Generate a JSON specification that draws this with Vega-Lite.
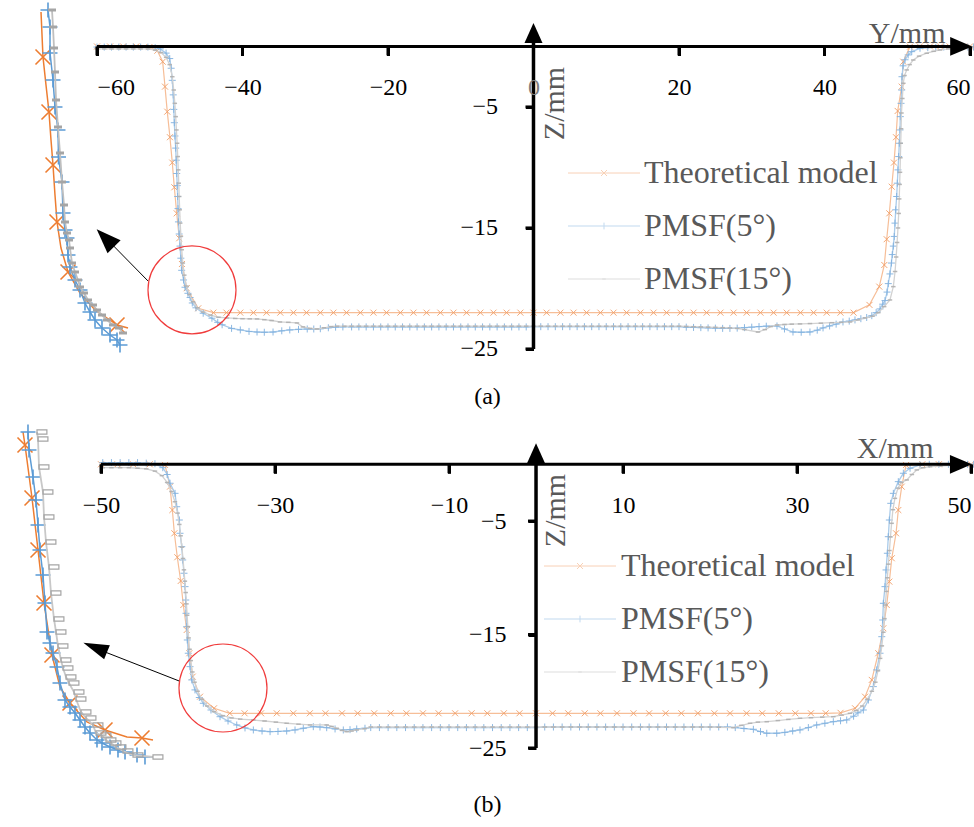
{
"$schema":"https://vega.github.io/schema/vega-lite/v6.json",
"width":974,"height":827,"padding":0,"autosize":{"type":"none"},"background":"white",
"config":{"view":{"stroke":null},"font":"Liberation Serif"},
"datasets":{
"aT":[{"y":-60,"z":0},{"y":-58.2,"z":0},{"y":-56.4,"z":0},{"y":-54.6,"z":0},{"y":-52.8,"z":-0.05},{"y":-51.7,"z":-0.35},{"y":-50.97,"z":-1.26},{"y":-50.65,"z":-3.32},{"y":-50.34,"z":-5.39},{"y":-49.97,"z":-7.5},{"y":-49.65,"z":-9.6},{"y":-49.37,"z":-11.64},{"y":-49.04,"z":-13.79},{"y":-48.69,"z":-15.85},{"y":-48.32,"z":-17.98},{"y":-47.67,"z":-19.98},{"y":-46.08,"z":-21.64},
{"y":-44,"z":-22},{"y":-42.2,"z":-22},{"y":-40.3,"z":-22},{"y":-38.5,"z":-22},{"y":-36.7,"z":-22},{"y":-34.8,"z":-22},{"y":-33,"z":-22},{"y":-31.2,"z":-22},{"y":-29.3,"z":-22},{"y":-27.5,"z":-22},{"y":-25.7,"z":-22},{"y":-23.8,"z":-22},{"y":-22,"z":-22},{"y":-20.2,"z":-22},{"y":-18.3,"z":-22},{"y":-16.5,"z":-22},{"y":-14.7,"z":-22},{"y":-12.8,"z":-22},{"y":-11,"z":-22},{"y":-9.2,"z":-22},{"y":-7.3,"z":-22},{"y":-5.5,"z":-22},{"y":-3.7,"z":-22},{"y":-1.8,"z":-22},{"y":0,"z":-22},{"y":1.8,"z":-22},{"y":3.7,"z":-22},{"y":5.5,"z":-22},{"y":7.3,"z":-22},{"y":9.2,"z":-22},{"y":11,"z":-22},{"y":12.8,"z":-22},{"y":14.7,"z":-22},{"y":16.5,"z":-22},{"y":18.3,"z":-22},{"y":20.2,"z":-22},{"y":22,"z":-22},{"y":23.8,"z":-22},{"y":25.7,"z":-22},{"y":27.5,"z":-22},{"y":29.3,"z":-22},{"y":31.2,"z":-22},{"y":33,"z":-22},{"y":34.8,"z":-22},{"y":36.7,"z":-22},{"y":38.5,"z":-22},{"y":40.3,"z":-22},{"y":42.2,"z":-22},{"y":44,"z":-22},
{"y":46.18,"z":-21.36},{"y":47.53,"z":-19.85},{"y":48.22,"z":-18.06},{"y":48.55,"z":-15.93},{"y":48.91,"z":-13.79},{"y":49.24,"z":-11.59},{"y":49.55,"z":-9.6},{"y":49.83,"z":-7.5},{"y":50.06,"z":-5.33},{"y":50.61,"z":-3.32},{"y":50.83,"z":-1.26},{"y":51.75,"z":-0.02},{"y":53.1,"z":0},{"y":54.5,"z":0},{"y":55.9,"z":0},{"y":57.2,"z":0},{"y":58.6,"z":0},{"y":60,"z":0}],
"aP5":[{"y":-60,"z":-0.05},{"y":-59,"z":-0.05},{"y":-58,"z":-0.05},{"y":-57,"z":-0.05},{"y":-56,"z":-0.05},{"y":-55,"z":-0.05},{"y":-54,"z":-0.05},{"y":-53,"z":-0.05},{"y":-52,"z":-0.1},{"y":-51.3,"z":-0.2},{"y":-50.5,"z":-0.55},{"y":-50,"z":-1},{"y":-49.8,"z":-1.8},{"y":-49.65,"z":-2.8},{"y":-49.52,"z":-4},{"y":-49.44,"z":-5.2},{"y":-49.37,"z":-6.3},{"y":-49.28,"z":-7.4},{"y":-49.18,"z":-8.4},{"y":-49.11,"z":-9.4},{"y":-49.04,"z":-10.5},{"y":-48.97,"z":-11.5},{"y":-48.91,"z":-12.4},{"y":-48.86,"z":-13.4},{"y":-48.8,"z":-14.5},{"y":-48.7,"z":-15.5},{"y":-48.59,"z":-16.5},{"y":-48.47,"z":-17.5},{"y":-48.36,"z":-18.5},{"y":-48.1,"z":-19.3},{"y":-47.9,"z":-19.9},{"y":-47.5,"z":-20.4},{"y":-47.2,"z":-20.75},{"y":-46.9,"z":-21.2},{"y":-46.4,"z":-21.6},{"y":-45.4,"z":-22.05},{"y":-44.2,"z":-22.46},{"y":-43.4,"z":-22.8},{"y":-42.8,"z":-23},{"y":-41.5,"z":-23.3},{"y":-40.3,"z":-23.43},{"y":-39.1,"z":-23.55},{"y":-38,"z":-23.6},{"y":-37,"z":-23.62},{"y":-35.8,"z":-23.6},{"y":-34.6,"z":-23.5},{"y":-33.5,"z":-23.43},{"y":-32.3,"z":-23.38},{"y":-31.1,"z":-23.35},{"y":-30.2,"z":-23.35},{"y":-29.3,"z":-23.33},{"y":-28.2,"z":-23.25},{"y":-27.2,"z":-23.2},{"y":-26.2,"z":-23.18},
{"y":-25,"z":-23.18},{"y":-24,"z":-23.18},{"y":-23,"z":-23.18},{"y":-22,"z":-23.18},{"y":-21,"z":-23.18},{"y":-20,"z":-23.18},{"y":-19,"z":-23.18},{"y":-18,"z":-23.18},{"y":-17,"z":-23.18},{"y":-16,"z":-23.18},{"y":-15,"z":-23.18},{"y":-14,"z":-23.18},{"y":-13,"z":-23.18},{"y":-12,"z":-23.18},{"y":-11,"z":-23.18},{"y":-10,"z":-23.18},{"y":-9,"z":-23.18},{"y":-8,"z":-23.18},{"y":-7,"z":-23.18},{"y":-6,"z":-23.18},{"y":-5,"z":-23.18},{"y":-4,"z":-23.18},{"y":-3,"z":-23.18},{"y":-2,"z":-23.18},{"y":-1,"z":-23.18},
{"y":0,"z":-23.16},{"y":1,"z":-23.16},{"y":2,"z":-23.16},{"y":3,"z":-23.16},{"y":4,"z":-23.16},{"y":5,"z":-23.16},{"y":6,"z":-23.16},{"y":7,"z":-23.16},{"y":8,"z":-23.16},{"y":9,"z":-23.16},{"y":10,"z":-23.16},{"y":11,"z":-23.16},{"y":12,"z":-23.16},{"y":13,"z":-23.16},{"y":14,"z":-23.16},{"y":15,"z":-23.16},{"y":16,"z":-23.16},{"y":17,"z":-23.16},{"y":18,"z":-23.16},{"y":19,"z":-23.16},{"y":20,"z":-23.16},
{"y":21,"z":-23.2},{"y":22,"z":-23.22},{"y":23,"z":-23.24},{"y":24,"z":-23.26},{"y":25,"z":-23.28},{"y":26,"z":-23.3},{"y":27,"z":-23.3},{"y":28,"z":-23.28},{"y":29,"z":-23.24},
{"y":30,"z":-23.2},{"y":31,"z":-23.15},{"y":32,"z":-23.12},{"y":33.47,"z":-23.1},{"y":34.5,"z":-23.35},{"y":35.67,"z":-23.6},{"y":36.8,"z":-23.62},{"y":38,"z":-23.6},{"y":39,"z":-23.45},{"y":39.8,"z":-23.26},{"y":40.7,"z":-23.1},{"y":41.6,"z":-22.95},{"y":42.54,"z":-22.77},{"y":43.4,"z":-22.7},{"y":44.19,"z":-22.6},{"y":45,"z":-22.5},{"y":45.8,"z":-22.4},{"y":46.5,"z":-22.25},{"y":47.1,"z":-22},{"y":47.63,"z":-21.69},{"y":48,"z":-21.3},{"y":48.32,"z":-21},{"y":48.6,"z":-20.3},{"y":48.77,"z":-19.6},{"y":49,"z":-18.8},{"y":49.2,"z":-17.9},{"y":49.32,"z":-17.2},{"y":49.46,"z":-16.5},{"y":49.59,"z":-15.7},{"y":49.69,"z":-14.6},{"y":49.79,"z":-13.5},{"y":49.92,"z":-12.4},{"y":50.01,"z":-11.3},{"y":50.1,"z":-10.2},{"y":50.2,"z":-9.1},{"y":50.28,"z":-8},{"y":50.38,"z":-6.9},{"y":50.42,"z":-5.8},{"y":50.52,"z":-4.7},{"y":50.61,"z":-3.6},{"y":50.65,"z":-2.5},{"y":50.8,"z":-1.6},{"y":51.07,"z":-1.1},{"y":51.5,"z":-0.7},{"y":51.99,"z":-0.43},{"y":53.13,"z":-0.15},{"y":54.2,"z":-0.1},{"y":55.3,"z":-0.08},{"y":56.4,"z":-0.05},{"y":57.5,"z":-0.05},{"y":58.6,"z":-0.05},{"y":59.7,"z":-0.05},{"y":60.5,"z":-0.05}],
"aP15":[{"y":-60,"z":-0.2},{"y":-59,"z":-0.2},{"y":-58,"z":-0.2},{"y":-57,"z":-0.2},{"y":-56,"z":-0.2},{"y":-55,"z":-0.2},{"y":-54,"z":-0.2},{"y":-53,"z":-0.2},{"y":-52,"z":-0.3},{"y":-51.2,"z":-0.5},{"y":-50.5,"z":-0.9},{"y":-50,"z":-1.5},{"y":-49.65,"z":-2.5},{"y":-49.45,"z":-3.6},{"y":-49.3,"z":-4.7},{"y":-49.18,"z":-5.8},{"y":-49.08,"z":-6.9},{"y":-48.98,"z":-8},{"y":-48.9,"z":-9.1},{"y":-48.83,"z":-10.2},{"y":-48.76,"z":-11.3},{"y":-48.7,"z":-12.4},{"y":-48.63,"z":-13.5},{"y":-48.56,"z":-14.6},{"y":-48.46,"z":-15.7},{"y":-48.35,"z":-16.8},{"y":-48.2,"z":-17.9},{"y":-48,"z":-18.9},{"y":-47.7,"z":-19.8},{"y":-47.3,"z":-20.5},{"y":-46.8,"z":-21.1},{"y":-46.2,"z":-21.6},{"y":-45.4,"z":-21.95},{"y":-44.4,"z":-22.2},{"y":-43.3,"z":-22.38},{"y":-42.13,"z":-22.44},{"y":-41,"z":-22.48},{"y":-40,"z":-22.5},{"y":-39,"z":-22.51},{"y":-38,"z":-22.52},{"y":-37,"z":-22.58},{"y":-36,"z":-22.65},{"y":-34.85,"z":-22.77},{"y":-33.7,"z":-22.8},{"y":-32.51,"z":-22.85},{"y":-31.69,"z":-23.18},{"y":-30.7,"z":-23.3},{"y":-29.76,"z":-23.35},{"y":-28.8,"z":-23.25},{"y":-27.8,"z":-23.15},
{"y":-27,"z":-23.12},{"y":-26,"z":-23.12},{"y":-25,"z":-23.12},{"y":-24,"z":-23.12},{"y":-23,"z":-23.12},{"y":-22,"z":-23.12},{"y":-21,"z":-23.12},{"y":-20,"z":-23.12},{"y":-19,"z":-23.12},{"y":-18,"z":-23.12},{"y":-17,"z":-23.12},{"y":-16,"z":-23.12},{"y":-15,"z":-23.12},{"y":-14,"z":-23.12},{"y":-13,"z":-23.12},{"y":-12,"z":-23.12},{"y":-11,"z":-23.12},{"y":-10,"z":-23.12},{"y":-9,"z":-23.12},{"y":-8,"z":-23.12},{"y":-7,"z":-23.12},{"y":-6,"z":-23.12},{"y":-5,"z":-23.12},{"y":-4,"z":-23.12},{"y":-3,"z":-23.12},{"y":-2,"z":-23.12},{"y":-1,"z":-23.12},{"y":0,"z":-23.12},{"y":1,"z":-23.12},{"y":2,"z":-23.12},{"y":3,"z":-23.12},{"y":4,"z":-23.12},{"y":5,"z":-23.12},{"y":6,"z":-23.12},{"y":7,"z":-23.12},{"y":8,"z":-23.12},{"y":9,"z":-23.12},{"y":10,"z":-23.12},{"y":11,"z":-23.12},{"y":12,"z":-23.12},{"y":13,"z":-23.12},{"y":14,"z":-23.12},{"y":15,"z":-23.12},{"y":16,"z":-23.12},{"y":17,"z":-23.12},{"y":18,"z":-23.12},{"y":19,"z":-23.12},{"y":20,"z":-23.12},{"y":21,"z":-23.14},{"y":22,"z":-23.16},{"y":23,"z":-23.18},{"y":24,"z":-23.2},{"y":25,"z":-23.22},{"y":26,"z":-23.24},{"y":27,"z":-23.26},{"y":28,"z":-23.3},{"y":29,"z":-23.4},
{"y":30.86,"z":-23.6},{"y":31.8,"z":-23.4},{"y":32.6,"z":-23.15},{"y":33.47,"z":-23.02},{"y":34.5,"z":-22.98},{"y":35.5,"z":-22.95},{"y":36.63,"z":-22.93},{"y":38,"z":-22.9},{"y":39.5,"z":-22.87},{"y":41,"z":-22.83},{"y":42.3,"z":-22.8},{"y":43.51,"z":-22.77},{"y":44.6,"z":-22.6},{"y":45.57,"z":-22.44},{"y":46.6,"z":-22.3},{"y":47.4,"z":-22},{"y":48.2,"z":-21.5},{"y":49,"z":-20.95},{"y":49.46,"z":-19.85},{"y":49.7,"z":-18.6},{"y":49.85,"z":-17.4},{"y":49.98,"z":-16.2},{"y":50.1,"z":-15},{"y":50.2,"z":-13.8},{"y":50.27,"z":-12.6},{"y":50.33,"z":-11.4},{"y":50.38,"z":-10.4},{"y":50.43,"z":-9.2},{"y":50.48,"z":-8},{"y":50.53,"z":-6.8},{"y":50.58,"z":-5.5},{"y":50.7,"z":-4.3},{"y":50.83,"z":-3.04},{"y":51,"z":-2.4},{"y":51.3,"z":-1.94},{"y":51.7,"z":-1.5},{"y":52.2,"z":-1.12},{"y":53,"z":-0.8},{"y":54.05,"z":-0.56},{"y":55,"z":-0.4},{"y":55.88,"z":-0.29},{"y":57,"z":-0.2},{"y":58,"z":-0.1},{"y":59.55,"z":-0.05},{"y":60.5,"z":-0.02}],
"bT":[{"y":-50,"z":0},{"y":-48.1,"z":0},{"y":-46.3,"z":0},{"y":-44.4,"z":0},{"y":-42.64,"z":-0.06},{"y":-42.07,"z":-1.97},{"y":-41.8,"z":-4.03},{"y":-41.57,"z":-6.08},{"y":-41.23,"z":-8.19},{"y":-40.84,"z":-10.28},{"y":-40.54,"z":-12.4},{"y":-40.15,"z":-14.6},{"y":-39.85,"z":-16.65},{"y":-39.46,"z":-18.71},{"y":-38.62,"z":-20.48},{"y":-37.01,"z":-21.5},{"y":-35.2,"z":-21.94},
{"y":-33.5,"z":-21.94},{"y":-31.6,"z":-21.94},{"y":-29.8,"z":-21.94},{"y":-27.9,"z":-21.94},{"y":-26,"z":-21.94},{"y":-24.2,"z":-21.94},{"y":-22.3,"z":-21.94},{"y":-20.5,"z":-21.94},{"y":-18.6,"z":-21.94},{"y":-16.7,"z":-21.94},{"y":-14.9,"z":-21.94},{"y":-13,"z":-21.94},{"y":-11.2,"z":-21.94},{"y":-9.3,"z":-21.94},{"y":-7.4,"z":-21.94},{"y":-5.6,"z":-21.94},{"y":-3.7,"z":-21.94},{"y":-1.9,"z":-21.94},{"y":0,"z":-21.94},{"y":1.9,"z":-21.94},{"y":3.7,"z":-21.94},{"y":5.6,"z":-21.94},{"y":7.4,"z":-21.94},{"y":9.3,"z":-21.94},{"y":11.2,"z":-21.94},{"y":13,"z":-21.94},{"y":14.9,"z":-21.94},{"y":16.7,"z":-21.94},{"y":18.6,"z":-21.94},{"y":20.5,"z":-21.94},{"y":22.3,"z":-21.94},{"y":24.2,"z":-21.94},{"y":26,"z":-21.94},{"y":27.9,"z":-21.94},{"y":29.8,"z":-21.94},{"y":31.6,"z":-21.94},{"y":33.3,"z":-21.94},
{"y":35,"z":-21.9},{"y":36.67,"z":-21.5},{"y":37.82,"z":-20.48},{"y":38.59,"z":-19},{"y":39.34,"z":-16.65},{"y":39.92,"z":-14.45},{"y":40.31,"z":-12.4},{"y":40.61,"z":-10.34},{"y":40.89,"z":-8.28},{"y":41.38,"z":-6.08},{"y":41.64,"z":-4.03},{"y":42.03,"z":-1.97},{"y":42.53,"z":-0.06},{"y":44.4,"z":0},{"y":46.3,"z":0},{"y":48.1,"z":0},{"y":50,"z":0}],
"bP5":[{"y":-49.8,"z":0.15},{"y":-48.8,"z":0.15},{"y":-47.8,"z":0.15},{"y":-46.8,"z":0.15},{"y":-45.8,"z":0.15},{"y":-44.8,"z":0.1},{"y":-43.8,"z":0.05},{"y":-42.9,"z":-0.3},{"y":-42.4,"z":-0.9},{"y":-42.07,"z":-1.67},{"y":-41.49,"z":-2.56},{"y":-41.3,"z":-3.74},{"y":-41,"z":-4.91},{"y":-40.92,"z":-6.08},{"y":-40.72,"z":-7.26},{"y":-40.61,"z":-8.43},{"y":-40.46,"z":-9.6},{"y":-40.34,"z":-10.78},{"y":-40.26,"z":-11.96},{"y":-40.23,"z":-13.13},{"y":-40.15,"z":-14.31},{"y":-40.08,"z":-15.48},{"y":-39.97,"z":-16.65},{"y":-39.77,"z":-17.83},{"y":-39.57,"z":-19},{"y":-39.2,"z":-19.88},{"y":-38.7,"z":-20.55},{"y":-38.24,"z":-21.06},{"y":-37.36,"z":-21.65},{"y":-36.32,"z":-22.24},{"y":-35.4,"z":-22.62},{"y":-34.4,"z":-22.97},{"y":-33.45,"z":-23.23},{"y":-32.49,"z":-23.41},{"y":-31.49,"z":-23.5},{"y":-30.57,"z":-23.56},{"y":-29.66,"z":-23.54},{"y":-28.66,"z":-23.5},{"y":-27.7,"z":-23.41},{"y":-26.75,"z":-23.26},{"y":-25.6,"z":-23.12},{"y":-24.83,"z":-23.15},{"y":-24.06,"z":-23.21},{"y":-23.1,"z":-23.32},{"y":-22.15,"z":-23.41},{"y":-21.38,"z":-23.38},{"y":-20.61,"z":-23.32},{"y":-19.66,"z":-23.26},
{"y":-19,"z":-23.2},{"y":-18,"z":-23.2},{"y":-17,"z":-23.2},{"y":-16,"z":-23.2},{"y":-15,"z":-23.2},{"y":-14,"z":-23.2},{"y":-13,"z":-23.2},{"y":-12,"z":-23.2},{"y":-11,"z":-23.2},{"y":-10,"z":-23.2},{"y":-9,"z":-23.2},{"y":-8,"z":-23.2},{"y":-7,"z":-23.2},{"y":-6,"z":-23.2},{"y":-5,"z":-23.2},{"y":-4,"z":-23.2},{"y":-3,"z":-23.2},{"y":-2,"z":-23.2},{"y":-1,"z":-23.2},{"y":0,"z":-23.2},{"y":1,"z":-23.15},{"y":2,"z":-23.15},{"y":3,"z":-23.15},{"y":4,"z":-23.15},{"y":5,"z":-23.15},{"y":6,"z":-23.15},{"y":7,"z":-23.15},{"y":8,"z":-23.15},{"y":9,"z":-23.15},{"y":10,"z":-23.15},{"y":11,"z":-23.15},{"y":12,"z":-23.15},{"y":13,"z":-23.15},{"y":14,"z":-23.15},{"y":15,"z":-23.15},{"y":16,"z":-23.15},{"y":17,"z":-23.15},{"y":18,"z":-23.15},{"y":19,"z":-23.15},{"y":20,"z":-23.15},{"y":21,"z":-23.15},{"y":22,"z":-23.15},
{"y":22.9,"z":-23.2},{"y":23.9,"z":-23.28},{"y":24.98,"z":-23.35},{"y":25.8,"z":-23.55},{"y":26.52,"z":-23.7},{"y":27.67,"z":-23.7},{"y":28.6,"z":-23.62},{"y":29.5,"z":-23.5},{"y":30.34,"z":-23.41},{"y":31.3,"z":-23.2},{"y":32.26,"z":-22.97},{"y":33.2,"z":-22.82},{"y":34.17,"z":-22.68},{"y":35,"z":-22.6},{"y":35.71,"z":-22.53},{"y":36.5,"z":-22.2},{"y":37,"z":-21.9},{"y":37.62,"z":-21.65},{"y":38.2,"z":-20.77},{"y":38.77,"z":-19.59},{"y":39.16,"z":-18.12},{"y":39.54,"z":-16.65},{"y":39.74,"z":-15.19},{"y":39.85,"z":-13.72},{"y":39.92,"z":-12.25},{"y":40.11,"z":-10.78},{"y":40.23,"z":-9.31},{"y":40.38,"z":-7.84},{"y":40.49,"z":-6.38},{"y":40.61,"z":-4.91},{"y":40.77,"z":-3.44},{"y":41.07,"z":-2.56},{"y":41.64,"z":-1.53},{"y":42.22,"z":-0.79},{"y":42.99,"z":-0.35},{"y":44.14,"z":-0.06},{"y":45.2,"z":0},{"y":46.3,"z":0},{"y":47.4,"z":0},{"y":48.5,"z":0},{"y":49.6,"z":0},{"y":50.3,"z":0}],
"bP15":[{"y":-49.8,"z":-0.3},{"y":-48.8,"z":-0.3},{"y":-47.8,"z":-0.3},{"y":-46.8,"z":-0.3},{"y":-45.8,"z":-0.35},{"y":-44.8,"z":-0.4},{"y":-43.8,"z":-0.6},{"y":-43,"z":-1},{"y":-42.4,"z":-1.6},{"y":-41.9,"z":-2.4},{"y":-41.5,"z":-3.3},{"y":-41.2,"z":-4.3},{"y":-41,"z":-5.3},{"y":-40.85,"z":-6.3},{"y":-40.7,"z":-7.3},{"y":-40.58,"z":-8.3},{"y":-40.47,"z":-9.3},{"y":-40.36,"z":-10.3},{"y":-40.27,"z":-11.3},{"y":-40.18,"z":-12.3},{"y":-40.1,"z":-13.3},{"y":-40.02,"z":-14.3},{"y":-39.93,"z":-15.3},{"y":-39.82,"z":-16.3},{"y":-39.68,"z":-17.3},{"y":-39.5,"z":-18.3},{"y":-39.25,"z":-19.2},{"y":-38.9,"z":-20},{"y":-38.4,"z":-20.7},{"y":-37.8,"z":-21.3},{"y":-37,"z":-21.8},{"y":-36,"z":-22.15},{"y":-35,"z":-22.35},{"y":-34,"z":-22.45},{"y":-32.49,"z":-22.53},{"y":-31.2,"z":-22.62},{"y":-29.9,"z":-22.72},{"y":-28.66,"z":-22.82},{"y":-27.3,"z":-22.9},{"y":-25.98,"z":-22.97},{"y":-24.06,"z":-22.97},{"y":-23.5,"z":-23.1},{"y":-22.91,"z":-23.26},{"y":-22.3,"z":-23.45},{"y":-21.76,"z":-23.56},{"y":-21.2,"z":-23.5},{"y":-20.61,"z":-23.41},{"y":-19.7,"z":-23.3},
{"y":-19,"z":-23.15},{"y":-18,"z":-23.15},{"y":-17,"z":-23.15},{"y":-16,"z":-23.15},{"y":-15,"z":-23.15},{"y":-14,"z":-23.15},{"y":-13,"z":-23.15},{"y":-12,"z":-23.15},{"y":-11,"z":-23.15},{"y":-10,"z":-23.15},{"y":-9,"z":-23.15},{"y":-8,"z":-23.15},{"y":-7,"z":-23.15},{"y":-6,"z":-23.15},{"y":-5,"z":-23.15},{"y":-4,"z":-23.15},{"y":-3,"z":-23.15},{"y":-2,"z":-23.15},{"y":-1,"z":-23.15},{"y":0,"z":-23.15},{"y":1,"z":-23.15},{"y":2,"z":-23.15},{"y":3,"z":-23.15},{"y":4,"z":-23.15},{"y":5,"z":-23.15},{"y":6,"z":-23.15},{"y":7,"z":-23.15},{"y":8,"z":-23.15},{"y":9,"z":-23.15},{"y":10,"z":-23.15},{"y":11,"z":-23.15},{"y":12,"z":-23.15},{"y":13,"z":-23.15},{"y":14,"z":-23.15},{"y":15,"z":-23.15},{"y":16,"z":-23.15},{"y":17,"z":-23.15},{"y":18,"z":-23.15},{"y":19,"z":-23.15},{"y":20,"z":-23.15},{"y":21,"z":-23.17},
{"y":22.68,"z":-23.2},{"y":23.6,"z":-23},{"y":24.6,"z":-22.82},{"y":25.5,"z":-22.72},{"y":26.52,"z":-22.68},{"y":27.8,"z":-22.58},{"y":29,"z":-22.48},{"y":30.34,"z":-22.38},{"y":31.6,"z":-22.33},{"y":32.9,"z":-22.28},{"y":34.17,"z":-22.24},{"y":35.1,"z":-22.1},{"y":36.09,"z":-21.94},{"y":36.8,"z":-21.7},{"y":37.5,"z":-21.3},{"y":38.1,"z":-20.7},{"y":38.6,"z":-20},{"y":39,"z":-19.2},{"y":39.3,"z":-18.2},{"y":39.55,"z":-17.1},{"y":39.75,"z":-16},{"y":39.92,"z":-14.8},{"y":40.05,"z":-13.6},{"y":40.15,"z":-12.4},{"y":40.27,"z":-11.2},{"y":40.38,"z":-10},{"y":40.5,"z":-8.8},{"y":40.62,"z":-7.6},{"y":40.74,"z":-6.4},{"y":40.87,"z":-5.2},{"y":41.02,"z":-4},{"y":41.25,"z":-3},{"y":41.6,"z":-2.1},{"y":42,"z":-1.6},{"y":42.61,"z":-1.38},{"y":43.2,"z":-0.9},{"y":43.76,"z":-0.5},{"y":44.5,"z":-0.3},{"y":45.29,"z":-0.21},{"y":46.5,"z":-0.15},{"y":47.7,"z":-0.1},{"y":48.9,"z":-0.1},{"y":50.1,"z":-0.05}],
"iaT":[{"y":-48.633,"z":-16.04},{"y":-48.567,"z":-16.94},{"y":-48.467,"z":-17.5},{"y":-48.367,"z":-18.04},{"y":-48.3,"z":-18.6},{"y":-48.233,"z":-19.1},{"y":-48.167,"z":-19.7},{"y":-48.1,"z":-20.24},{"y":-47.967,"z":-20.76},{"y":-47.733,"z":-21.24},{"y":-47.333,"z":-21.66},{"y":-46.833,"z":-22},{"y":-46.333,"z":-22.2},{"y":-46.1,"z":-22.3},{"y":-45.733,"z":-22.36}],
"iaTm":[{"y":-48.567,"z":-16.94},{"y":-48.367,"z":-18.04},{"y":-48.233,"z":-19.1},{"y":-48.1,"z":-20.24},{"y":-47.733,"z":-21.24},{"y":-46.1,"z":-22.3}],
"iaP5":[{"y":-48.4,"z":-16},{"y":-48.333,"z":-16.34},{"y":-48.333,"z":-16.86},{"y":-48.233,"z":-17.4},{"y":-48.167,"z":-17.94},{"y":-48.067,"z":-18.4},{"y":-48.05,"z":-18.94},{"y":-47.933,"z":-19.44},{"y":-47.9,"z":-20.06},{"y":-47.833,"z":-20.4},{"y":-47.767,"z":-20.56},{"y":-47.733,"z":-20.9},{"y":-47.667,"z":-21.14},{"y":-47.5,"z":-21.4},{"y":-47.333,"z":-21.6},{"y":-47.167,"z":-21.86},{"y":-47,"z":-22.04},{"y":-46.833,"z":-22.2},{"y":-46.6,"z":-22.36},{"y":-46.333,"z":-22.5},{"y":-46.1,"z":-22.6},{"y":-46,"z":-22.7}],
"iaP15":[{"y":-48.267,"z":-16},{"y":-48.233,"z":-16.34},{"y":-48.2,"z":-16.76},{"y":-48.167,"z":-17.24},{"y":-48.133,"z":-17.8},{"y":-48.067,"z":-18.34},{"y":-48,"z":-18.86},{"y":-47.933,"z":-19.44},{"y":-47.867,"z":-19.9},{"y":-47.833,"z":-20.24},{"y":-47.767,"z":-20.46},{"y":-47.7,"z":-20.6},{"y":-47.667,"z":-20.76},{"y":-47.6,"z":-21.06},{"y":-47.5,"z":-21.24},{"y":-47.4,"z":-21.4},{"y":-47.333,"z":-21.54},{"y":-47.2,"z":-21.66},{"y":-47.067,"z":-21.8},{"y":-46.9,"z":-21.9},{"y":-46.767,"z":-22},{"y":-46.6,"z":-22.1},{"y":-46.433,"z":-22.2},{"y":-46.233,"z":-22.3},{"y":-46.033,"z":-22.36},{"y":-45.9,"z":-22.46}],
"ibT":[{"y":-42.233,"z":-16.18},{"y":-42.167,"z":-16.44},{"y":-41.933,"z":-17.5},{"y":-41.733,"z":-18.54},{"y":-41.533,"z":-19.6},{"y":-41.267,"z":-20.64},{"y":-41,"z":-21.28},{"y":-40.667,"z":-21.6},{"y":-40.1,"z":-21.98},{"y":-39.5,"z":-22.14},{"y":-38.767,"z":-22.28},{"y":-38.267,"z":-22.3},{"y":-37.9,"z":-22.34}],
"ibTm":[{"y":-42.167,"z":-16.44},{"y":-41.933,"z":-17.5},{"y":-41.733,"z":-18.54},{"y":-41.533,"z":-19.6},{"y":-41.267,"z":-20.64},{"y":-40.667,"z":-21.6},{"y":-39.5,"z":-22.14},{"y":-38.267,"z":-22.3}],
"ibP5":[{"y":-42.067,"z":-16.18},{"y":-42.033,"z":-16.54},{"y":-41.9,"z":-17.08},{"y":-41.8,"z":-17.54},{"y":-41.733,"z":-18.04},{"y":-41.667,"z":-18.54},{"y":-41.567,"z":-19.04},{"y":-41.5,"z":-19.6},{"y":-41.433,"z":-20.18},{"y":-41.333,"z":-20.4},{"y":-41.233,"z":-20.6},{"y":-41.1,"z":-20.88},{"y":-41,"z":-21.2},{"y":-40.833,"z":-21.54},{"y":-40.667,"z":-21.68},{"y":-40.5,"z":-21.8},{"y":-40.333,"z":-21.94},{"y":-40.167,"z":-22.08},{"y":-40,"z":-22.2},{"y":-39.767,"z":-22.34},{"y":-39.6,"z":-22.4},{"y":-39.333,"z":-22.48},{"y":-39.067,"z":-22.54},{"y":-38.833,"z":-22.58},{"y":-38.433,"z":-22.64},{"y":-38.167,"z":-22.68}],
"ibP15":[{"y":-41.767,"z":-16.18},{"y":-41.733,"z":-16.32},{"y":-41.7,"z":-16.88},{"y":-41.567,"z":-17.38},{"y":-41.533,"z":-17.88},{"y":-41.467,"z":-18.38},{"y":-41.367,"z":-18.88},{"y":-41.3,"z":-19.4},{"y":-41.2,"z":-19.92},{"y":-41.133,"z":-20.18},{"y":-41.067,"z":-20.46},{"y":-40.967,"z":-20.74},{"y":-40.9,"z":-20.9},{"y":-40.8,"z":-21.08},{"y":-40.7,"z":-21.2},{"y":-40.533,"z":-21.38},{"y":-40.467,"z":-21.52},{"y":-40.3,"z":-21.78},{"y":-40.133,"z":-21.9},{"y":-39.9,"z":-22.04},{"y":-39.8,"z":-22.2},{"y":-39.633,"z":-22.24},{"y":-39.467,"z":-22.34},{"y":-39.3,"z":-22.4},{"y":-39.133,"z":-22.48},{"y":-38.9,"z":-22.56},{"y":-38.567,"z":-22.64},{"y":-37.9,"z":-22.68}],
"axTicks":[{"t":-60},{"t":-40},{"t":-20},{"t":20},{"t":40},{"t":60}],
"bxTicks":[{"t":-50},{"t":-30},{"t":-10},{"t":10},{"t":30},{"t":50}],
"zTicks":[{"t":-5},{"t":-15},{"t":-25}]
},
"resolve":{"scale":{"x":"independent","y":"independent","stroke":"independent","shape":"independent"},"axis":{"x":"independent","y":"independent"},"legend":{"stroke":"independent","shape":"independent"}},
"layer":[
{
"resolve":{"axis":{"x":"independent","y":"independent"}},
"layer":[
{
"encoding":{
"x":{"field":"y","type":"quantitative","scale":{"domain":[-73.33,60.55],"nice":false,"zero":false},
"axis":{"orient":"bottom","offset":-780.5,"values":[-60,-40,-20,0,20,40,60],"domain":false,"grid":false,"ticks":true,"tickSize":9,"tickWidth":3,"tickColor":"#000","zindex":2,"labelFont":"Liberation Serif","labelFontSize":24,"labelColor":{"condition":{"test":"datum.value === 0","value":"#808080"},"value":"#000"},"labelPadding":20,"labelAlign":{"condition":[{"test":"datum.value === -60","value":"left"},{"test":"datum.value === 60","value":"right"}],"value":"center"},"labelFlush":false,"labelOverlap":false,"title":"Y/mm","titleFont":"Liberation Serif","titleFontSize":30,"titleFontWeight":"normal","titleColor":"#595959","titleX":945,"titleY":-4,"titleAlign":"right","titleBaseline":"alphabetic","titleAngle":0}},
"y":{"field":"z","type":"quantitative","scale":{"domain":[-64.51,3.84],"nice":false,"zero":false},
"axis":{"orient":"left","offset":-533.5,"values":[-5,-15,-25],"domain":false,"grid":false,"ticks":true,"tickSize":8,"tickWidth":3,"tickColor":"#000","zindex":2,"labelFont":"Liberation Serif","labelFontSize":24,"labelColor":"#000","labelPadding":28,"labelOverlap":false,"labelFlush":false,"title":"Z/mm","titleFont":"Liberation Serif","titleFontSize":30,"titleFontWeight":"normal","titleColor":"#595959","titleAngle":270,"titleX":30,"titleY":103,"titleAlign":"center","titleBaseline":"alphabetic"}}
},
"layer":[
{"data":{"name":"aT"},"mark":{"type":"line","color":"#F6BE98","strokeWidth":1.2},"encoding":{"order":{"value":null}}},
{"data":{"name":"aT"},"mark":{"type":"point","shape":"M-1,-1L1,1M-1,1L1,-1","filled":false,"color":"#F29F68","opacity":0.9,"size":36,"strokeWidth":1}},
{"data":{"name":"aP5"},"mark":{"type":"line","color":"#A9CBEA","strokeWidth":1.3},"encoding":{"order":{"value":null}}},
{"data":{"name":"aP5"},"mark":{"type":"point","shape":"M-1,0L1,0M0,-1L0,1","filled":false,"color":"#80B1DF","opacity":0.9,"size":49,"strokeWidth":1}},
{"data":{"name":"aP15"},"mark":{"type":"line","color":"#D2D2D2","strokeWidth":1.3},"encoding":{"order":{"value":null}}},
{"data":{"name":"aP15"},"mark":{"type":"point","shape":"M-1,0L1,0","filled":false,"color":"#B0B0B0","opacity":0.9,"size":20,"strokeWidth":1.5}}
]
},
{
"layer":[
{"data":{"values":[{"k":1}]},"mark":{"type":"rule","color":"#000","strokeWidth":3},"encoding":{"x":{"datum":-60,"type":"quantitative","axis":null},"x2":{"datum":59},"y":{"datum":0,"type":"quantitative","axis":null}}},
{"data":{"values":[{"k":1}]},"mark":{"type":"rule","color":"#000","strokeWidth":3.5},"encoding":{"x":{"datum":0,"type":"quantitative","axis":null},"y":{"datum":1,"type":"quantitative","axis":null},"y2":{"datum":-25}}},
{"data":{"name":"axTicks"},"mark":{"type":"rule","color":"#000","strokeWidth":3},"encoding":{"x":{"field":"t","type":"quantitative","axis":null},"y":{"datum":0,"type":"quantitative","axis":null},"y2":{"datum":-0.74}}},
{"data":{"name":"zTicks"},"mark":{"type":"rule","color":"#000","strokeWidth":3},"encoding":{"y":{"field":"t","type":"quantitative","axis":null},"x":{"datum":0,"type":"quantitative","axis":null},"x2":{"datum":-1.1}}},
{"data":{"values":[{"k":1}]},"mark":{"type":"point","shape":"M0,0L-2,-0.85L-2,0.85Z","filled":true,"color":"#000","opacity":1,"size":484},"encoding":{"x":{"datum":60.3,"type":"quantitative","axis":null},"y":{"datum":0,"type":"quantitative","axis":null}}},
{"data":{"values":[{"k":1}]},"mark":{"type":"point","shape":"M0,0L-0.9,2L0.9,2Z","filled":true,"color":"#000","opacity":1,"size":400},"encoding":{"x":{"datum":0,"type":"quantitative","axis":null},"y":{"datum":1.94,"type":"quantitative","axis":null}}},
{"data":{"values":[{"k":1}]},"mark":{"type":"point","shape":"circle","filled":false,"color":"#F03C3C","opacity":1,"size":7744,"strokeWidth":1.2},"encoding":{"x":{"datum":-46.94,"type":"quantitative","axis":null},"y":{"datum":-20.12,"type":"quantitative","axis":null}}},
{"data":{"values":[{"k":1}]},"mark":{"type":"rule","color":"#000","strokeWidth":1},"encoding":{"x":{"datum":-52.99,"type":"quantitative","axis":null},"y":{"datum":-19.38,"type":"quantitative","axis":null},"x2":{"datum":-59},"y2":{"datum":-15.7}}},
{"data":{"values":[{"k":1}]},"mark":{"type":"point","shape":"M0,0L2,-0.75L2,0.75Z","filled":true,"color":"#000","opacity":1,"size":605,"angle":45},"encoding":{"x":{"datum":-60.04,"type":"quantitative","axis":null},"y":{"datum":-15.11,"type":"quantitative","axis":null}}},
{"data":{"values":[]},"mark":{"type":"point","filled":false,"size":576,"strokeWidth":1},
"encoding":{
"stroke":{"field":"s","type":"nominal","scale":{"domain":["T","P5","P15"],"range":["#F6BE98","#A9CBEA","#CFCFCF"]},"legend":{"orient":"none","legendX":588,"legendY":157,"title":null,"direction":"vertical","padding":0,"labelFont":"Liberation Serif","labelFontSize":32,"labelColor":"#595959","labelOffset":24,"rowPadding":21,"symbolSize":576,"symbolStrokeWidth":1,"labelLimit":0,"labelExpr":"datum.label == 'T' ? 'Theoretical model' : datum.label == 'P5' ? 'PMSF(5°)' : 'PMSF(15°)'"}},
"shape":{"field":"s","type":"nominal","scale":{"domain":["T","P5","P15"],"range":["M-3,0L3,0M-0.25,-0.25L0.25,0.25M-0.25,0.25L0.25,-0.25","M-3,0L3,0M0,-0.28L0,0.28","M-3,0L3,0M-0.15,0L0.15,0"]},"legend":{"orient":"none","legendX":588,"legendY":157,"title":null,"direction":"vertical","padding":0,"labelFont":"Liberation Serif","labelFontSize":32,"labelColor":"#595959","labelOffset":24,"rowPadding":21,"symbolSize":576,"symbolStrokeWidth":1,"labelLimit":0,"labelExpr":"datum.label == 'T' ? 'Theoretical model' : datum.label == 'P5' ? 'PMSF(5°)' : 'PMSF(15°)'"}}
}}
]
}
]
},
{
"encoding":{
"x":{"field":"y","type":"quantitative","scale":{"domain":[-50,-17.533],"nice":false,"zero":false},"axis":{"orient":"top","offset":0,"domain":false,"ticks":false,"labels":false,"grid":false,"title":"(a)","titleX":487,"titleY":403,"titleAlign":"center","titleBaseline":"alphabetic","titleAngle":0,"titleFont":"Liberation Serif","titleFontSize":24,"titleFontWeight":"normal","titleColor":"#000"}},
"y":{"field":"z","type":"quantitative","scale":{"domain":[-32.34,-15.8],"nice":false,"zero":false},"axis":null}
},
"layer":[
{"data":{"name":"iaT"},"mark":{"type":"line","color":"#ED7D31","strokeWidth":1.5},"encoding":{"order":{"value":null}}},
{"data":{"name":"iaTm"},"mark":{"type":"point","shape":"M-1,-1L1,1M-1,1L1,-1","filled":false,"color":"#ED7D31","opacity":1,"size":225,"strokeWidth":1.6}},
{"data":{"name":"iaP5"},"mark":{"type":"line","color":"#5B9BD5","strokeWidth":1.5},"encoding":{"order":{"value":null}}},
{"data":{"name":"iaP5"},"mark":{"type":"point","shape":"M-1,0L1,0M0,-1L0,1","filled":false,"color":"#5B9BD5","opacity":1,"size":225,"strokeWidth":1.6}},
{"data":{"name":"iaP15"},"mark":{"type":"line","color":"#BFBFBF","strokeWidth":1.8},"encoding":{"order":{"value":null}}},
{"data":{"name":"iaP15"},"mark":{"type":"point","shape":"M-0.8,-0.3L0.8,-0.3L0.8,0.3L-0.8,0.3Z","filled":true,"color":"#A5A5A5","opacity":1,"size":100}}
]
},
{
"resolve":{"axis":{"x":"independent","y":"independent"}},
"layer":[
{
"encoding":{
"x":{"field":"y","type":"quantitative","scale":{"domain":[-61.61,50.34],"nice":false,"zero":false},
"axis":{"orient":"bottom","offset":-362.7,"values":[-50,-30,-10,10,30,50],"domain":false,"grid":false,"ticks":true,"tickSize":9,"tickWidth":3,"tickColor":"#000","zindex":2,"labelFont":"Liberation Serif","labelFontSize":24,"labelColor":"#000","labelPadding":20,"labelAlign":{"condition":{"test":"datum.value === 50","value":"right"},"value":"center"},"labelFlush":false,"labelOverlap":false,"title":"X/mm","titleFont":"Liberation Serif","titleFontSize":30,"titleFontWeight":"normal","titleColor":"#595959","titleX":933,"titleY":-7,"titleAlign":"right","titleBaseline":"alphabetic","titleAngle":0}},
"y":{"field":"z","type":"quantitative","scale":{"domain":[-31.96,40.91],"nice":false,"zero":false},
"axis":{"orient":"left","offset":-536,"values":[-5,-15,-25],"domain":false,"grid":false,"ticks":true,"tickSize":8,"tickWidth":3,"tickColor":"#000","zindex":2,"labelFont":"Liberation Serif","labelFontSize":24,"labelColor":"#000","labelPadding":22,"labelOverlap":false,"labelFlush":false,"title":"Z/mm","titleFont":"Liberation Serif","titleFontSize":30,"titleFontWeight":"normal","titleColor":"#595959","titleAngle":270,"titleX":28,"titleY":510,"titleAlign":"center","titleBaseline":"alphabetic"}}
},
"layer":[
{"data":{"name":"bT"},"mark":{"type":"line","color":"#F6BE98","strokeWidth":1.2},"encoding":{"order":{"value":null}}},
{"data":{"name":"bT"},"mark":{"type":"point","shape":"M-1,-1L1,1M-1,1L1,-1","filled":false,"color":"#F29F68","opacity":0.9,"size":36,"strokeWidth":1}},
{"data":{"name":"bP5"},"mark":{"type":"line","color":"#A9CBEA","strokeWidth":1.3},"encoding":{"order":{"value":null}}},
{"data":{"name":"bP5"},"mark":{"type":"point","shape":"M-1,0L1,0M0,-1L0,1","filled":false,"color":"#80B1DF","opacity":0.9,"size":49,"strokeWidth":1}},
{"data":{"name":"bP15"},"mark":{"type":"line","color":"#D2D2D2","strokeWidth":1.3},"encoding":{"order":{"value":null}}},
{"data":{"name":"bP15"},"mark":{"type":"point","shape":"M-1,0L1,0","filled":false,"color":"#B0B0B0","opacity":0.9,"size":20,"strokeWidth":1.5}}
]
},
{
"layer":[
{"data":{"values":[{"k":1}]},"mark":{"type":"rule","color":"#000","strokeWidth":3},"encoding":{"x":{"datum":-50,"type":"quantitative","axis":null},"x2":{"datum":49},"y":{"datum":0,"type":"quantitative","axis":null}}},
{"data":{"values":[{"k":1}]},"mark":{"type":"rule","color":"#000","strokeWidth":3.5},"encoding":{"x":{"datum":0,"type":"quantitative","axis":null},"y":{"datum":1,"type":"quantitative","axis":null},"y2":{"datum":-25}}},
{"data":{"name":"bxTicks"},"mark":{"type":"rule","color":"#000","strokeWidth":3},"encoding":{"x":{"field":"t","type":"quantitative","axis":null},"y":{"datum":0,"type":"quantitative","axis":null},"y2":{"datum":-0.79}}},
{"data":{"name":"zTicks"},"mark":{"type":"rule","color":"#000","strokeWidth":3},"encoding":{"y":{"field":"t","type":"quantitative","axis":null},"x":{"datum":0,"type":"quantitative","axis":null},"x2":{"datum":-0.92}}},
{"data":{"values":[{"k":1}]},"mark":{"type":"point","shape":"M0,0L-2,-0.85L-2,0.85Z","filled":true,"color":"#000","opacity":1,"size":484},"encoding":{"x":{"datum":50.1,"type":"quantitative","axis":null},"y":{"datum":0,"type":"quantitative","axis":null}}},
{"data":{"values":[{"k":1}]},"mark":{"type":"point","shape":"M0,0L-0.9,2L0.9,2Z","filled":true,"color":"#000","opacity":1,"size":400},"encoding":{"x":{"datum":0,"type":"quantitative","axis":null},"y":{"datum":1.85,"type":"quantitative","axis":null}}},
{"data":{"values":[{"k":1}]},"mark":{"type":"point","shape":"circle","filled":false,"color":"#F03C3C","opacity":1,"size":7744,"strokeWidth":1.2},"encoding":{"x":{"datum":-35.98,"type":"quantitative","axis":null},"y":{"datum":-19.71,"type":"quantitative","axis":null}}},
{"data":{"values":[{"k":1}]},"mark":{"type":"rule","color":"#000","strokeWidth":1},"encoding":{"x":{"datum":-41.03,"type":"quantitative","axis":null},"y":{"datum":-19.09,"type":"quantitative","axis":null},"x2":{"datum":-51},"y2":{"datum":-16.1}}},
{"data":{"values":[{"k":1}]},"mark":{"type":"point","shape":"M0,0L2,-0.6L2,0.6Z","filled":true,"color":"#000","opacity":1,"size":650,"angle":22},"encoding":{"x":{"datum":-52.03,"type":"quantitative","axis":null},"y":{"datum":-15.72,"type":"quantitative","axis":null}}},
{"data":{"values":[]},"mark":{"type":"point","filled":false,"size":576,"strokeWidth":1},
"encoding":{
"stroke":{"field":"s","type":"nominal","scale":{"domain":["T","P5","P15"],"range":["#F6BE98","#A9CBEA","#CFCFCF"]},"legend":{"orient":"none","legendX":564,"legendY":550,"title":null,"direction":"vertical","padding":0,"labelFont":"Liberation Serif","labelFontSize":32,"labelColor":"#595959","labelOffset":25,"rowPadding":21,"symbolSize":576,"symbolStrokeWidth":1,"labelLimit":0,"labelExpr":"datum.label == 'T' ? 'Theoretical model' : datum.label == 'P5' ? 'PMSF(5°)' : 'PMSF(15°)'"}},
"shape":{"field":"s","type":"nominal","scale":{"domain":["T","P5","P15"],"range":["M-3,0L3,0M-0.25,-0.25L0.25,0.25M-0.25,0.25L0.25,-0.25","M-3,0L3,0M0,-0.28L0,0.28","M-3,0L3,0M-0.15,0L0.15,0"]},"legend":{"orient":"none","legendX":564,"legendY":550,"title":null,"direction":"vertical","padding":0,"labelFont":"Liberation Serif","labelFontSize":32,"labelColor":"#595959","labelOffset":25,"rowPadding":21,"symbolSize":576,"symbolStrokeWidth":1,"labelLimit":0,"labelExpr":"datum.label == 'T' ? 'Theoretical model' : datum.label == 'P5' ? 'PMSF(5°)' : 'PMSF(15°)'"}}
}}
]
}
]
},
{
"encoding":{
"x":{"field":"y","type":"quantitative","scale":{"domain":[-43,-10.533],"nice":false,"zero":false},"axis":{"orient":"top","offset":0,"domain":false,"ticks":false,"labels":false,"grid":false,"title":"(b)","titleX":487,"titleY":811,"titleAlign":"center","titleBaseline":"alphabetic","titleAngle":0,"titleFont":"Liberation Serif","titleFontSize":24,"titleFontWeight":"normal","titleColor":"#000"}},
"y":{"field":"z","type":"quantitative","scale":{"domain":[-24.08,-7.54],"nice":false,"zero":false},"axis":null}
},
"layer":[
{"data":{"name":"ibT"},"mark":{"type":"line","color":"#ED7D31","strokeWidth":1.5},"encoding":{"order":{"value":null}}},
{"data":{"name":"ibTm"},"mark":{"type":"point","shape":"M-1,-1L1,1M-1,1L1,-1","filled":false,"color":"#ED7D31","opacity":1,"size":225,"strokeWidth":1.6}},
{"data":{"name":"ibP5"},"mark":{"type":"line","color":"#5B9BD5","strokeWidth":1.5},"encoding":{"order":{"value":null}}},
{"data":{"name":"ibP5"},"mark":{"type":"point","shape":"M-1,0L1,0M0,-1L0,1","filled":false,"color":"#5B9BD5","opacity":1,"size":225,"strokeWidth":1.6}},
{"data":{"name":"ibP15"},"mark":{"type":"line","color":"#C8C8C8","strokeWidth":1.8},"encoding":{"order":{"value":null}}},
{"data":{"name":"ibP15"},"mark":{"type":"point","shape":"M0,-0.4L1.8,-0.4L1.8,0.4L0,0.4Z","filled":false,"color":"#A5A5A5","opacity":1,"size":121,"strokeWidth":1.2}}
]
}
]
}
